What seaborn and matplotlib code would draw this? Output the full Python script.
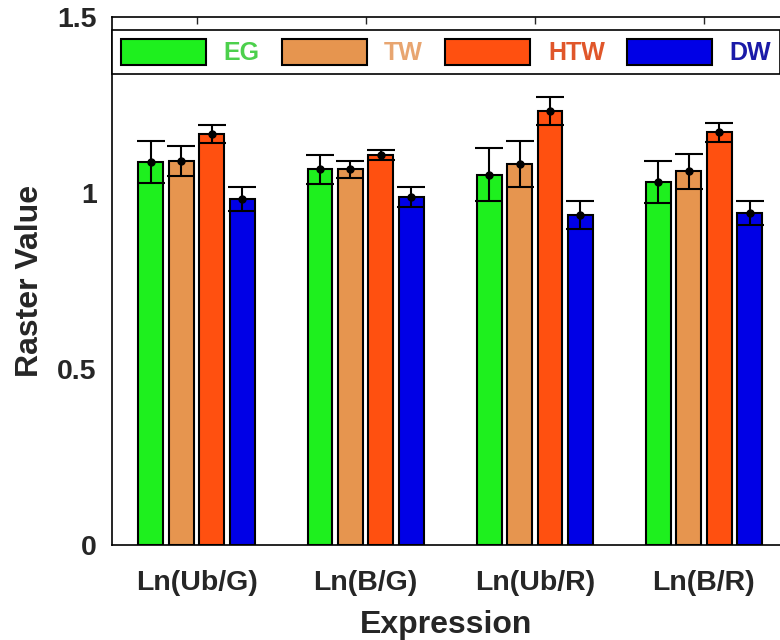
import numpy as np
import pandas as pd
import matplotlib
matplotlib.use('Agg')
import matplotlib.pyplot as plt
import seaborn as sns

#%% DATA

groups = ['Ln(Ub/G)', 'Ln(B/G)', 'Ln(Ub/R)', 'Ln(B/R)']
series = ['EG', 'TW', 'HTW', 'DW']

eg = [1.088, 1.067, 1.052, 1.032]
tw = [1.092, 1.067, 1.082, 1.062]
htw = [1.168, 1.108, 1.233, 1.172]
dw = [0.982, 0.988, 0.938, 0.942]

eg_err = [0.060, 0.040, 0.075, 0.060]
tw_err = [0.043, 0.024, 0.065, 0.050]
htw_err = [0.025, 0.013, 0.040, 0.028]
dw_err = [0.034, 0.028, 0.039, 0.034]

bar_colors = ['#1EF01E', '#E6954F', '#FF5010', '#0000E6']
text_colors = ['#4CD04C', '#E8A570', '#E0562A', '#1A1AA8']

#%% BUILD TABLE

vals = [eg, tw, htw, dw]
errs = [eg_err, tw_err, htw_err, dw_err]
df = pd.DataFrame({
    'Expression': np.tile(groups, len(series)),
    'group': np.repeat(series, len(groups)),
    'value': np.concatenate(vals),
    'err': np.concatenate(errs),
})

#%% PLOT

sns.set_style('white')
plt.rcParams['font.family'] = ['Liberation Sans', 'DejaVu Sans']
plt.rcParams['font.weight'] = 'bold'
txt = '#262626'

fig = plt.figure(figsize=(7.8, 6.4), dpi=100)
ax = fig.add_axes([0.1436, 0.1484, 0.8564, 0.825])

sns.barplot(data=df, x='Expression', y='value', hue='group',
            order=groups, hue_order=series, palette=bar_colors,
            saturation=1, errorbar=None, width=0.72, gap=0.18,
            edgecolor='black', linewidth=1.5, ax=ax)

# error bars at bar centres
for cont, s in zip(ax.containers, series):
    sub = df[df['group'] == s].set_index('Expression').loc[groups]
    xs = [p.get_x() + p.get_width() / 2 for p in cont.patches]
    ax.errorbar(xs, sub['value'], yerr=sub['err'], fmt='o', color='black',
                markersize=5, elinewidth=1.5, capsize=10, capthick=1.5)

ax.set_xlim(-0.5, 3.45)
ax.set_ylim(0, 1.5)
ax.set_yticks([0, 0.5, 1, 1.5])
ax.set_yticklabels(['0', '0.5', '1', '1.5'])
ax.tick_params(axis='both', direction='in', top=True, length=5, width=1,
               labelsize=20.5, labelcolor=txt, pad=11)
ax.tick_params(axis='x', pad=18)
for sp in ax.spines.values():
    sp.set_color('black')
    sp.set_linewidth(1.2)
ax.spines['right'].set_visible(False)

ax.set_xlabel('Expression', fontsize=23, fontweight='bold', color=txt, labelpad=10)
ax.set_ylabel('Raster Value', fontsize=23, fontweight='bold', color=txt, labelpad=9)

leg = ax.legend(loc='lower left', bbox_to_anchor=(0, 0.892, 1.0, 0.08),
                mode='expand', ncol=4, borderaxespad=0, fancybox=False,
                edgecolor='black', framealpha=1, fontsize=18,
                handlelength=3.4, handleheight=1.2, handletextpad=0.7,
                columnspacing=1.0, borderpad=0.35)
leg.get_frame().set_linewidth(1.2)
for t, c in zip(leg.get_texts(), text_colors):
    t.set_color(c)
    t.set_fontweight('bold')

plt.savefig('out.png', dpi=100)
plt.close()
